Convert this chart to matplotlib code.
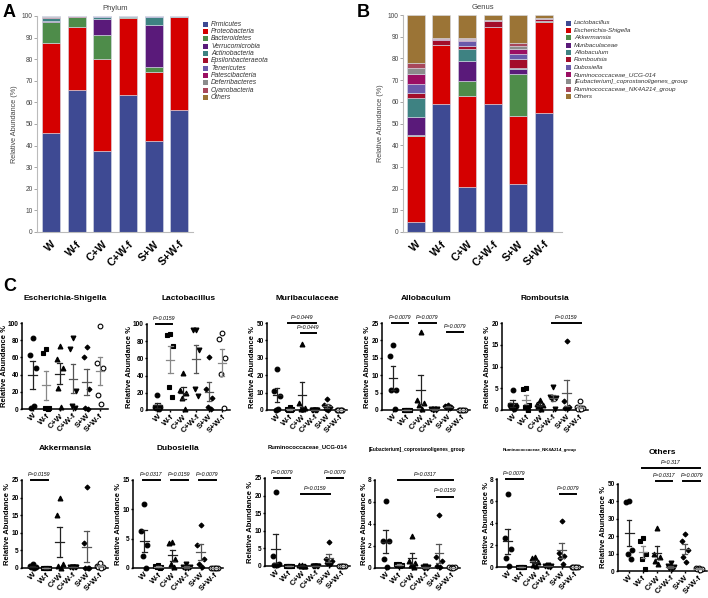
import matplotlib
matplotlib.use('Agg')
import matplotlib.pyplot as plt
import numpy as np
from matplotlib.patches import Rectangle

plt.rcParams['font.family'] = ['Liberation Sans', 'DejaVu Sans']

# ---------------- data ----------------
groups = ['W', 'W-f', 'C+W', 'C+W-f', 'S+W', 'S+W-f']

phylum_names = ['Firmicutes', 'Proteobacteria', 'Bacteroidetes', 'Verrucomicrobia',
                'Actinobacteria', 'Epsilonbacteraeota', 'Tenericutes', 'Patescibacteria',
                'Deferribacteres', 'Cyanobacteria', 'Others']
firmicutes = [45.8, 65.7, 37.4, 63.6, 42.1, 56.6]
proteobacteria = [41.9, 29.3, 42.6, 35.7, 32.1, 42.8]
bacteroidetes = [9.7, 4.6, 11.4, 0.3, 2.1, 0.1]
verrucomicrobia = [0.3, 0.0, 7.2, 0.0, 19.7, 0.0]
actinobacteria = [1.6, 0.1, 1.0, 0.2, 3.6, 0.3]
epsilonbacteraeota = [0.1, 0.1, 0.1, 0.1, 0.1, 0.1]
tenericutes = [0.2, 0.0, 0.1, 0.0, 0.1, 0.0]
patescibacteria = [0.1, 0.0, 0.0, 0.0, 0.0, 0.0]
deferribacteres = [0.1, 0.0, 0.0, 0.0, 0.0, 0.0]
cyanobacteria = [0.1, 0.1, 0.0, 0.0, 0.0, 0.0]
phylum_others = [0.1, 0.1, 0.2, 0.1, 0.2, 0.1]

genus_names = ['Lactobacillus', 'Escherichia-Shigella', 'Akkermansia', 'Muribaculaceae',
               'Allobaculum', 'Romboutsia', 'Dubosiella', 'Ruminococcaceae_UCG-014',
               '[Eubacterium]_coprostanoligenes_group', 'Ruminococcaceae_NK4A214_group', 'Others']
g_lactobacillus = [4.6, 58.9, 20.6, 59.2, 22.0, 55.0]
g_escherichia = [39.8, 27.4, 42.3, 35.1, 31.6, 41.9]
g_akkermansia = [0.2, 0.0, 6.9, 0.1, 19.3, 0.3]
g_muribaculaceae = [8.2, 0.1, 8.8, 0.1, 2.1, 0.0]
g_allobaculum = [9.1, 0.0, 5.8, 0.1, 0.7, 0.0]
g_romboutsia = [2.0, 2.1, 1.4, 2.6, 4.0, 0.9]
g_dubosiella = [4.4, 0.2, 2.2, 0.1, 2.4, 0.0]
g_ucg014 = [4.7, 0.3, 0.3, 0.0, 2.2, 0.0]
g_eubacterium = [2.5, 0.1, 0.6, 0.1, 1.4, 0.1]
g_nk4a214 = [2.3, 0.1, 0.3, 0.1, 1.2, 0.2]
g_others = [22.2, 10.8, 10.8, 2.5, 13.1, 1.6]

# per-sample relative abundance (%), one list per group (W, W-f, C+W, C+W-f, S+W, S+W-f)
escherichia = [[82, 63, 48, 1, 4], [70, 65, 1, 1, 0], [73, 58, 48, 25, 2],
               [82, 70, 21, 3, 1], [72, 60, 23, 1, 0], [96, 54, 48, 16, 6]]
lactobacillus = [[17, 4, 3, 2, 1], [88, 87, 75, 27, 15], [43, 23, 20, 14, 1],
                 [93, 93, 70, 25, 16], [62, 24, 14, 4, 1], [90, 82, 60, 42, 2]]
muribaculaceae = [[23.5, 11, 8, 0, 0.5], [1.5, 0.5, 0.3, 0.2, 0], [38, 4, 1, 0.5, 0.5],
                  [0.2, 0.1, 0.1, 0, 0], [6.5, 3, 2, 0.5, 0], [0, 0, 0, 0, 0.1]]
allobaculum = [[18.8, 15.6, 5.7, 5.7, 0.2], [0.1, 0.1, 0, 0, 0], [22.5, 3, 2, 1.5, 0.3],
               [0.2, 0.2, 0.2, 0.1, 0.1], [1.4, 1.2, 1.0, 0.8, 0.6], [0, 0, 0, 0, 0]]
romboutsia = [[4.6, 1.2, 1.0, 0.8, 0.2], [5.0, 4.8, 1.2, 0.6, 0.1], [2.2, 1.4, 1.2, 1.0, 0.2],
              [5.3, 3.0, 2.7, 2.5, 0.3], [15.8, 2.0, 0.6, 0.5, 0.4], [2.0, 0.8, 0.5, 0.3, 0.2]]
akkermansia = [[1.0, 0.5, 0.3, 0.2, 0.1], [0.1, 0.1, 0.1, 0.1, 0.1], [20, 15, 1, 0.5, 0],
               [0.2, 0.2, 0.2, 0.2, 0.2], [23, 7.2, 0.1, 0.1, 0], [1.5, 0.5, 0.3, 0.2, 0.1]]
dubosiella = [[10.9, 6.3, 4.0, 2.0, 0], [0.5, 0.3, 0.2, 0.1, 0], [4.5, 4.3, 1.5, 0.6, 0.1],
              [0.6, 0.2, 0.1, 0, 0], [7.4, 4.0, 1.5, 0.6, 0.1], [0, 0, 0, 0, 0]]
ucg014 = [[21, 2.7, 0.5, 0.3, 0.2], [0, 0, 0, 0, 0], [0.2, 0.2, 0.1, 0.1, 0],
          [0.1, 0.1, 0.1, 0, 0], [6.9, 2.0, 1.5, 0.8, 0.5], [0, 0, 0, 0, 0]]
eubacterium = [[6.1, 2.5, 2.5, 0.8, 0.1], [0.4, 0.35, 0.3, 0.25, 0.2], [2.9, 0.6, 0.5, 0.3, 0.1],
               [0.2, 0.1, 0.1, 0, 0], [4.8, 1.0, 0.6, 0.2, 0.1], [0.05, 0.05, 0.05, 0, 0]]
nk4a214 = [[6.6, 2.6, 1.6, 0.8, 0.1], [0, 0, 0, 0, 0], [0.9, 0.8, 0.5, 0.2, 0.1],
           [0.2, 0.1, 0.1, 0.05, 0], [4.2, 1.3, 1.0, 0.8, 0.3], [0, 0, 0, 0, 0]]
others = [[40.5, 39.5, 12.3, 10, 7], [19, 17, 10, 7, 1], [24.5, 10, 8, 6, 4],
          [4.5, 3, 2.5, 1.5, 1], [21.5, 17, 12, 8, 5], [2, 1.5, 1.2, 1, 0.8]]

# ---------------- style ----------------
phylum_colors = ['#3E4A93', '#D40000', '#4E8C4A', '#5A1A7A', '#3E8282', '#A30D2A',
                 '#6A5AAA', '#9B0F63', '#8C8C8C', '#A8475B', '#9B7436']
genus_colors = ['#3E4A93', '#D40000', '#4E8C4A', '#5A1A7A', '#3E8282', '#A30D2A',
                '#6A5AAA', '#9B0F63', '#8C8C8C', '#A8475B', '#9B7436']

Wpx, Hpx = 708, 598
fig = plt.figure(figsize=(Wpx / 100, Hpx / 100), dpi=100)


def px_axes(x0, y0, x1, y1):
    return fig.add_axes([x0 / Wpx, 1 - y1 / Hpx, (x1 - x0) / Wpx, (y1 - y0) / Hpx])


def fx(x):
    return x / Wpx


def fy(y):
    return 1 - y / Hpx


def stacked(rect, xlim, title, series, names, colors, legend_x, legend_y0, legend_fs):
    ax = px_axes(*rect)
    x = np.arange(len(groups))
    bottom = np.zeros(len(groups))
    for vals, c in zip(series, colors):
        ax.bar(x, vals, bottom=bottom, width=0.7, color=c, edgecolor='#D8DCE8', linewidth=0.4)
        bottom += np.array(vals)
    ax.set_xlim(*xlim)
    ax.set_ylim(0, 100)
    ax.set_yticks(np.arange(0, 101, 10))
    ax.tick_params(axis='y', labelsize=4.8, length=2, width=0.6, color='#999999', pad=1,
                   labelcolor='#444444')
    ax.set_xticks(x)
    ax.set_xticklabels(groups, rotation=45, ha='right', rotation_mode='anchor',
                       fontsize=7.8, fontweight='bold')
    ax.tick_params(axis='x', length=0, pad=5)
    for s in ['top', 'right']:
        ax.spines[s].set_visible(False)
    for s in ['left', 'bottom']:
        ax.spines[s].set_color('#BBBBBB')
        ax.spines[s].set_linewidth(0.8)
    ax.set_ylabel('Relative Abundance (%)', fontsize=5.2, color='#444444', labelpad=3)
    ax.set_title(title, fontsize=5.5, color='#444444', pad=4)
    step = 7.35
    for i, (n, c) in enumerate(zip(names, colors)):
        yy = legend_y0 + i * step
        fig.patches.append(Rectangle((fx(legend_x), fy(yy + 2.6)), 5 / Wpx, 5 / Hpx,
                                     transform=fig.transFigure, facecolor=c, edgecolor='none'))
        fig.text(fx(legend_x + 8), fy(yy), n, fontsize=legend_fs, style='italic',
                 color='#333333', va='center', ha='left')
    return ax


stacked((37, 16, 193, 232), (-0.545, 5.53), 'Phylum',
        [firmicutes, proteobacteria, bacteroidetes, verrucomicrobia, actinobacteria,
         epsilonbacteraeota, tenericutes, patescibacteria, deferribacteres, cyanobacteria,
         phylum_others], phylum_names, phylum_colors, 203, 24, 4.9)
stacked((403, 15, 562, 232), (-0.49, 5.7), 'Genus',
        [g_lactobacillus, g_escherichia, g_akkermansia, g_muribaculaceae, g_allobaculum,
         g_romboutsia, g_dubosiella, g_ucg014, g_eubacterium, g_nk4a214, g_others],
        genus_names, genus_colors, 566, 23, 4.6)

markers = ['o', 's', '^', 'v', 'D', 'o']
msizes = [3.4, 3.2, 3.5, 3.5, 2.5, 3.4]
filled = [True, True, True, True, True, False]
bar_colors = ['#222222', '#888888', '#222222', '#555555', '#555555', '#888888']


def scatter_panel(rect, title, data, ylim, yticks, pvals, title_size=6.0, title_y=None):
    ax = px_axes(*rect)
    for i, vals in enumerate(data):
        v = np.array(vals, dtype=float)
        n = len(v)
        offs = np.array([0.0, -0.22, 0.22, -0.11, 0.11])[:n]
        xs = i + offs
        mk = markers[i]
        ax.plot(xs, v, linestyle='none', marker=mk, markersize=msizes[i],
                markerfacecolor='black' if filled[i] else 'white', markeredgecolor='black',
                markeredgewidth=0.8, clip_on=False, zorder=3)
        m = v.mean()
        se = v.std(ddof=1) / np.sqrt(n)
        c = bar_colors[i]
        kw = dict(color=c, lw=0.9, zorder=4, clip_on=False)
        ax.plot([i - 0.32, i + 0.32], [m, m], **kw)
        ax.plot([i, i], [m - se, m + se], **kw)
        ax.plot([i - 0.17, i + 0.17], [m + se, m + se], **kw)
        ax.plot([i - 0.17, i + 0.17], [m - se, m - se], **kw)
    ax.set_xlim(-0.8, 5.6)
    ax.set_ylim(*ylim)
    ax.set_yticks(yticks)
    ax.set_yticklabels([str(t) for t in yticks], fontsize=4.7, fontweight='bold')
    ax.set_xticks(range(len(groups)))
    ax.set_xticklabels(groups, rotation=45, ha='right', rotation_mode='anchor',
                       fontsize=5.9, fontweight='bold')
    ax.tick_params(axis='both', length=1.6, width=1.0, pad=0.7)
    for s in ['top', 'right']:
        ax.spines[s].set_visible(False)
    for s in ['left', 'bottom']:
        ax.spines[s].set_linewidth(1.1)
    ax.set_ylabel('Relative Abundance %', fontsize=5.5, fontweight='bold', labelpad=0.3)
    cx = (rect[0] + rect[2]) / 2
    ty = title_y if title_y is not None else rect[1] - 25
    fig.text(fx(cx), fy(ty), title, fontsize=title_size, fontweight='bold',
             ha='center', va='center')
    yr = ylim[1] - ylim[0]
    for (a, b, yv, txt) in pvals:
        ax.plot([a - 0.1, b + 0.1], [yv, yv], color='black', lw=1.4, clip_on=False)
        ax.text((a + b) / 2, yv + 0.035 * yr, txt, fontsize=3.8, style='italic',
                ha='center', va='bottom', clip_on=False)
    return ax


scatter_panel((22, 323, 108, 409), 'Escherichia-Shigella', escherichia, (0, 100),
              [0, 20, 40, 60, 80, 100], [], title_y=299)
scatter_panel((147, 324, 230, 410), 'Lactobacillus', lactobacillus, (0, 100),
              [0, 20, 40, 60, 80, 100], [(0, 1, 100, 'P=0.0159')], title_y=299)
scatter_panel((267, 323, 347, 410), 'Muribaculaceae', muribaculaceae, (0, 50),
              [0, 10, 20, 30, 40, 50],
              [(1, 3, 50, 'P=0.0449'), (2, 3, 44, 'P=0.0449')], title_y=299)
scatter_panel((382, 323, 470, 410), 'Allobaculum', allobaculum, (0, 25),
              [0, 5, 10, 15, 20, 25],
              [(0, 1, 25, 'P=0.0079'), (2, 3, 25, 'P=0.0079'), (4, 5, 22.5, 'P=0.0079')],
              title_y=299)
scatter_panel((502, 323, 588, 410), 'Romboutsia', romboutsia, (0, 20),
              [0, 5, 10, 15, 20], [(3, 5, 20, 'P=0.0159')], title_y=299)

scatter_panel((22, 480, 108, 568), 'Akkermansia', akkermansia, (0, 25),
              [0, 5, 10, 15, 20, 25], [(0, 1, 25, 'P=0.0159')], title_y=449)
scatter_panel((133, 480, 223, 568), 'Dubosiella', dubosiella, (0, 15),
              [0, 5, 10, 15],
              [(0, 1, 15, 'P=0.0317'), (2, 3, 15, 'P=0.0159'), (4, 5, 15, 'P=0.0079')],
              title_y=449)
scatter_panel((265, 478, 350, 566), 'Ruminococcaceae_UCG-014', ucg014, (0, 25),
              [0, 5, 10, 15, 20, 25],
              [(0, 1, 25, 'P=0.0079'), (2, 4, 20.5, 'P=0.0159'), (4, 5, 25, 'P=0.0079')],
              title_size=4.2, title_y=447)
scatter_panel((375, 480, 460, 568), '[Eubacterium]_coprostanoligenes_group', eubacterium, (0, 8),
              [0, 2, 4, 6, 8],
              [(1, 5, 8, 'P=0.0317'), (4, 5, 6.5, 'P=0.0159')],
              title_size=3.5, title_y=450)
scatter_panel((497, 479, 583, 567), 'Ruminococcaceae_NK4A214_group', nk4a214, (0, 8),
              [0, 2, 4, 6, 8],
              [(0, 1, 8, 'P=0.0079'), (4, 5, 6.6, 'P=0.0079')],
              title_size=3.2, title_y=450)
scatter_panel((618, 484, 707, 571), 'Others', others, (0, 50),
              [0, 10, 20, 30, 40, 50],
              [(1, 5, 59, 'P=0.317'), (2, 3, 51.5, 'P=0.0317'), (4, 5, 51.5, 'P=0.0079')],
              title_y=452)

fig.text(fx(3), fy(4), 'A', fontsize=13, fontweight='bold', va='top', ha='left')
fig.text(fx(357), fy(4), 'B', fontsize=13, fontweight='bold', va='top', ha='left')
fig.text(fx(3), fy(278), 'C', fontsize=13, fontweight='bold', va='top', ha='left')

fig.savefig('out.png', dpi=100)
